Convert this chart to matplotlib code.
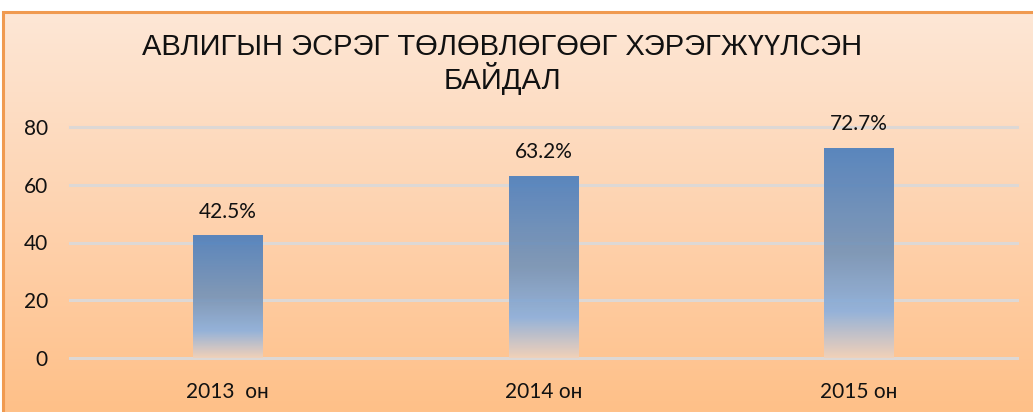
import numpy as np
import matplotlib
matplotlib.use("Agg")
import matplotlib.pyplot as plt
from matplotlib.colors import LinearSegmentedColormap
from matplotlib.patches import Rectangle

categories = ["2013  он", "2014 он", "2015 он"]
values = [42.5, 63.2, 72.7]
value_labels = ["42.5%", "63.2%", "72.7%"]
yticks = [0, 20, 40, 60, 80]
title = "АВЛИГЫН ЭСРЭГ ТӨЛӨВЛӨГӨӨГ ХЭРЭГЖҮҮЛСЭН\nБАЙДАЛ"

W, H = 1033, 412
fig = plt.figure(figsize=(W / 100, H / 100), dpi=100)
fig.patch.set_facecolor("white")

# background gradient inside frame
bg = fig.add_axes([3 / W, 0, 1 - 3 / W, (H - 12) / H], zorder=-10)
bg_cmap = LinearSegmentedColormap.from_list("bg", ["#FDE7D6", "#FED3B0", "#FFC088"])
grad = np.linspace(0, 1, 256).reshape(-1, 1)
bg.imshow(grad, aspect="auto", cmap=bg_cmap, extent=[0, 1, 0, 1], origin="upper")
bg.set_xlim(0, 1)
bg.set_ylim(0, 1)
bg.axis("off")
fig.add_artist(Rectangle((3 / W, -0.01), 1.02, (H - 12) / H + 0.01, transform=fig.transFigure,
                         fill=False, edgecolor="#F09A50", linewidth=2.2))

left, right = 70 / W, 1017 / W
bottom, top = (H - 358) / H, (H - 127) / H
ax = fig.add_axes([left, bottom, right - left, top - bottom])
ax.set_facecolor("none")
x = np.arange(len(categories))

for yv in yticks:
    ax.axhline(yv, color="#DDD8D5", linewidth=2.2, zorder=1, clip_on=False)

bar_cmap = LinearSegmentedColormap.from_list(
    "bar", [(0.0, "#4E80BE"), (0.5, "#7895B8"), (0.78, "#8DB1DE"), (1.0, "#F0D2BC")])
bars = ax.bar(x, values, width=0.22, color="none", zorder=2)
for b in bars:
    x0, w, h = b.get_x(), b.get_width(), b.get_height()
    im = ax.imshow(grad, aspect="auto", cmap=bar_cmap, extent=[x0, x0 + w, 0, h],
                   origin="upper", zorder=2, alpha=0.93)
    im.set_clip_path(b)
ax.set_xlim(-0.5, len(categories) - 0.5)
ax.set_ylim(0, 80)

font = ["Lato", "DejaVu Sans"]
for xi, v, lab in zip(x, values, value_labels):
    ax.annotate(lab, (xi, v), xytext=(0, 17), textcoords="offset points",
                ha="center", va="center", fontsize=15, family=font, color="#111111")

ax.set_yticks(yticks)
ax.set_yticklabels([str(t) for t in yticks], family=font, fontsize=15, color="#111111")
ax.set_xticks(x)
ax.set_xticklabels(categories, family=font, fontsize=15, color="#111111")
ax.tick_params(axis="both", length=0)
ax.tick_params(axis="y", pad=16)
ax.tick_params(axis="x", pad=17)
for s in ax.spines.values():
    s.set_visible(False)

fig.text(0.486, (H - 64) / H, title, ha="center", va="center", fontsize=21,
         family=["Liberation Sans", "DejaVu Sans"], color="#111111", linespacing=1.02)

fig.savefig("out.png", dpi=100)
